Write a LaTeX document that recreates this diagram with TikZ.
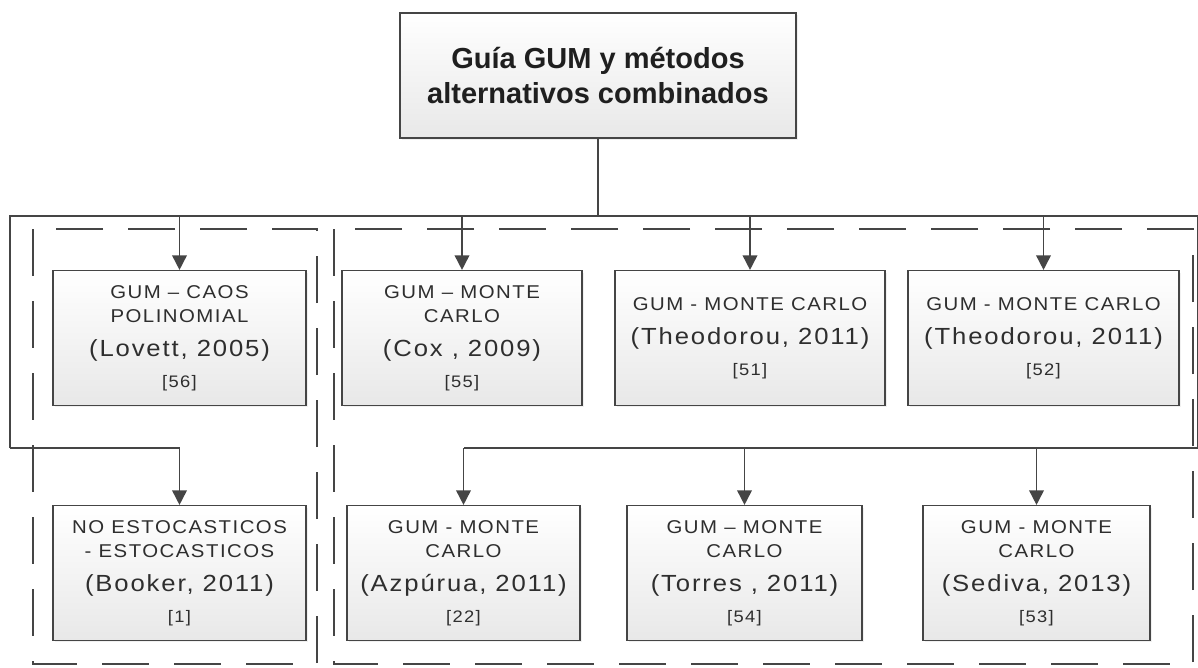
\documentclass[tikz,border=0pt]{standalone}
\usepackage{fontspec}
\setmainfont{Liberation Sans}
\newfontfamily\boxfont[LetterSpace=8,FakeStretch=1.1]{Liberation Sans}
\usepackage{tikz}
\usetikzlibrary{positioning,shadows,arrows.meta}
\definecolor{linegray}{HTML}{454545}
\definecolor{textgray}{HTML}{2E2E2E}
\newcommand{\autyear}[1]{{\fontsize{17.5}{18}\selectfont #1}}
\newcommand{\refno}[1]{{\fontsize{12.5}{18}\selectfont #1}}

\begin{document}
\begin{tikzpicture}[x=0.75pt,y=-0.75pt,
  box/.style={draw=linegray,line width=1.1pt,top color=white,bottom color=black!9,
    drop shadow={opacity=0.12,shadow xshift=1.5pt,shadow yshift=-1.5pt},
    text=textgray,align=center,inner sep=0pt,minimum height=101pt,
    font=\boxfont\fontsize{13.9}{18}\selectfont},
  link/.style={draw=linegray,line width=1.3pt},
  arr/.style={link,-{Triangle[width=11pt,length=11pt]}},
  group/.style={draw=linegray,line width=1.5pt,dash pattern=on 35pt off 19pt}]
\useasboundingbox (0,0) rectangle (1198,667);

% dashed groups
\draw[group] (33,229) rectangle (317,664);
\draw[group] (334,229) rectangle (1193,664);

% root
\node[box,minimum width=297pt,minimum height=93.75pt,text=black!88,
  font=\fontsize{21.75}{26.25}\selectfont\bfseries] (root) at (598,75.5)
  {Guía GUM y métodos\\alternativos combinados};

% first row
\node[box,minimum width=189.75pt] (lovett) at (179.5,338)
  {GUM – CAOS\\POLINOMIAL\\[7.5pt]\autyear{(Lovett, 2005)}\\[5pt]\refno{[56]}};
\node[box,minimum width=180pt] (cox) at (462,338)
  {GUM – MONTE\\CARLO\\[7.5pt]\autyear{(Cox , 2009)}\\[5pt]\refno{[55]}};
\node[box,minimum width=202.5pt] (theoA) at (750,338)
  {GUM - MONTE CARLO\\[7.5pt]\autyear{(Theodorou, 2011)}\\[5pt]\refno{[51]}};
\node[box,minimum width=203.25pt] (theoB) at (1043.5,338)
  {GUM - MONTE CARLO\\[7.5pt]\autyear{(Theodorou, 2011)}\\[5pt]\refno{[52]}};

% second row
\node[box,minimum width=189.75pt] (booker) at (179.5,573)
  {NO ESTOCASTICOS\\- ESTOCASTICOS\\[7.5pt]\autyear{(Booker, 2011)}\\[5pt]\refno{[1]}};
\node[box,minimum width=174.75pt] (azp) at (463.5,573)
  {GUM - MONTE\\CARLO\\[7.5pt]\autyear{(Azpúrua, 2011)}\\[5pt]\refno{[22]}};
\node[box,minimum width=176.25pt] (torres) at (744.5,573)
  {GUM – MONTE\\CARLO\\[7.5pt]\autyear{(Torres , 2011)}\\[5pt]\refno{[54]}};
\node[box,minimum width=170.25pt] (sediva) at (1036.5,573)
  {GUM - MONTE\\CARLO\\[7.5pt]\autyear{(Sediva, 2013)}\\[5pt]\refno{[53]}};

% connectors
\coordinate (busL) at (10,216);
\coordinate (busR) at (1198,216);
\coordinate (lowL) at (10,448);
\coordinate (lowR) at (1198,448);
\draw[link] (root.south) -- (root.south |- busL);
\draw[link] (lowL) -- (busL) -- (busR) -- (lowR) -- (lowR -| azp);
\draw[arr] (lowL) -| (booker.north);
\foreach \n in {lovett,cox,theoA,theoB}
  \draw[arr] (busL -| \n) -- (\n.north);
\foreach \n in {azp,torres,sediva}
  \draw[arr] (lowL -| \n) -- (\n.north);
\end{tikzpicture}
\end{document}
